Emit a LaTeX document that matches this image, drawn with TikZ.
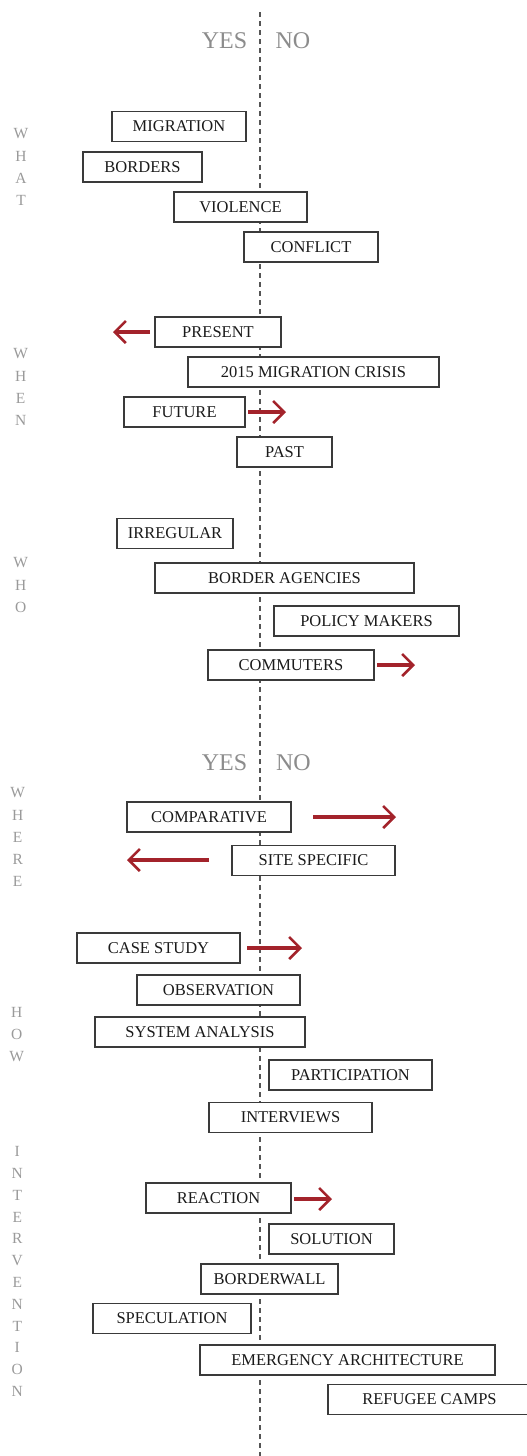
\documentclass[tikz,border=0pt]{standalone}
\usepackage{fontspec}
\setmainfont{Liberation Serif}
\usetikzlibrary{arrows.meta}
\definecolor{boxline}{HTML}{3A3A3A}
\definecolor{boxtext}{HTML}{1A1A1A}
\definecolor{graytxt}{HTML}{8C8C8C}
\definecolor{sidetxt}{HTML}{9A9A9A}
\definecolor{redarrow}{HTML}{A3232B}
\definecolor{dashcol}{HTML}{555555}
\tikzset{
  bx/.style={draw=boxline, line width=1.1pt, fill=white, inner sep=0pt,
    minimum height=30pt, text=boxtext, font=\fontsize{16.5}{18}\selectfont},
  yesno/.style={text=graytxt, inner sep=0pt, font=\fontsize{24}{26}\selectfont},
  side/.style={text=sidetxt, inner sep=0pt, font=\fontsize{15.5}{17}\selectfont},
  redarr/.style={draw=redarrow, line width=4pt,
    -{Straight Barb[length=11pt, width=22pt, line width=2.6pt]}},
  axis/.style={draw=dashcol, line width=1.3pt, dash pattern=on 5pt off 4pt}
}
\begin{document}
\begin{tikzpicture}[x=1pt,y=-1pt]
\useasboundingbox (0,0) rectangle (527,1456);
\coordinate (ltop) at (260,12);
\coordinate (lbot) at (260,1456);
\draw[axis] (ltop) -- (lbot);

\node[yesno] (yes1) at (224.5,41) {YES};
\node[yesno] (no1) at (293,41) {NO};
\node[yesno] (yes2) at (224.5,763) {YES};
\node[yesno] (no2) at (293.5,763) {NO};

% side labels
\foreach \l [count=\i] in {W,H,A,T}
  \node[side] (what\i) at (21,{134+22*(\i-1)}) {\l};
\foreach \l [count=\i] in {W,H,E,N}
  \node[side] (when\i) at (20.7,{354+22.3*(\i-1)}) {\l};
\foreach \l [count=\i] in {W,H,O}
  \node[side] (who\i) at (20.7,{563+22.3*(\i-1)}) {\l};
\foreach \l [count=\i] in {W,H,E,R,E}
  \node[side] (where\i) at (17.7,{793+22.2*(\i-1)}) {\l};
\foreach \l [count=\i] in {H,O,W}
  \node[side] (how\i) at (16.7,{1012.7+22*(\i-1)}) {\l};
\foreach \l [count=\i] in {I,N,T,E,R,V,E,N,T,I,O,N}
  \node[side] (int\i) at (17.3,{1151.7+21.8*(\i-1)}) {\l};

% boxes
\node[bx, minimum width=134pt] (migration) at (179,126.5) {MIGRATION};
\node[bx, minimum width=119pt] (borders) at (142.5,167) {BORDERS};
\node[bx, minimum width=133pt] (violence) at (240.5,207) {VIOLENCE};
\node[bx, minimum width=134pt] (conflict) at (311,247) {CONFLICT};

\node[bx, minimum width=126pt] (present) at (218,332) {PRESENT};
\node[bx, minimum width=251pt] (crisis) at (313.5,372) {2015 MIGRATION CRISIS};
\node[bx, minimum width=121pt] (future) at (184.5,412) {FUTURE};
\node[bx, minimum width=95pt] (past) at (284.5,452) {PAST};

\node[bx, minimum width=116pt] (irregular) at (175,533.5) {IRREGULAR};
\node[bx, minimum width=259pt] (agencies) at (284.5,578) {BORDER AGENCIES};
\node[bx, minimum width=185pt] (policy) at (366.5,621) {POLICY MAKERS};
\node[bx, minimum width=166pt] (commuters) at (291,665) {COMMUTERS};

\node[bx, minimum width=164pt] (comparative) at (209,817) {COMPARATIVE};
\node[bx, minimum width=163pt] (site) at (313.5,860.5) {SITE SPECIFIC};

\node[bx, minimum width=163pt] (casestudy) at (158.5,948) {CASE STUDY};
\node[bx, minimum width=163pt] (observation) at (218.5,990) {OBSERVATION};
\node[bx, minimum width=210pt] (system) at (200,1032) {SYSTEM ANALYSIS};
\node[bx, minimum width=163pt] (participation) at (350.5,1075) {PARTICIPATION};
\node[bx, minimum width=163pt] (interviews) at (290.5,1117.5) {INTERVIEWS};

\node[bx, minimum width=145pt] (reaction) at (218.5,1198) {REACTION};
\node[bx, minimum width=125pt] (solution) at (331.5,1239) {SOLUTION};
\node[bx, minimum width=137pt] (borderwall) at (269.5,1279) {BORDERWALL};
\node[bx, minimum width=158pt] (speculation) at (172,1318.5) {SPECULATION};
\node[bx, minimum width=295pt] (emergency) at (347.5,1360) {EMERGENCY ARCHITECTURE};
\node[bx, minimum width=203pt] (camps) at (429.5,1399.5) {REFUGEE CAMPS};

% red arrows
\coordinate (a1s) at (150,332);  \coordinate (a1e) at (113,332);
\coordinate (a2s) at (248,412);  \coordinate (a2e) at (286,412);
\coordinate (a3s) at (377,665);  \coordinate (a3e) at (415,665);
\coordinate (a4s) at (313,817);  \coordinate (a4e) at (396,817);
\coordinate (a5s) at (209,860);  \coordinate (a5e) at (127,860);
\coordinate (a6s) at (247,948);  \coordinate (a6e) at (302,948);
\coordinate (a7s) at (294,1199); \coordinate (a7e) at (332,1199);
\draw[redarr] (a1s) -- (a1e);
\draw[redarr] (a2s) -- (a2e);
\draw[redarr] (a3s) -- (a3e);
\draw[redarr] (a4s) -- (a4e);
\draw[redarr] (a5s) -- (a5e);
\draw[redarr] (a6s) -- (a6e);
\draw[redarr] (a7s) -- (a7e);
\end{tikzpicture}
\end{document}
